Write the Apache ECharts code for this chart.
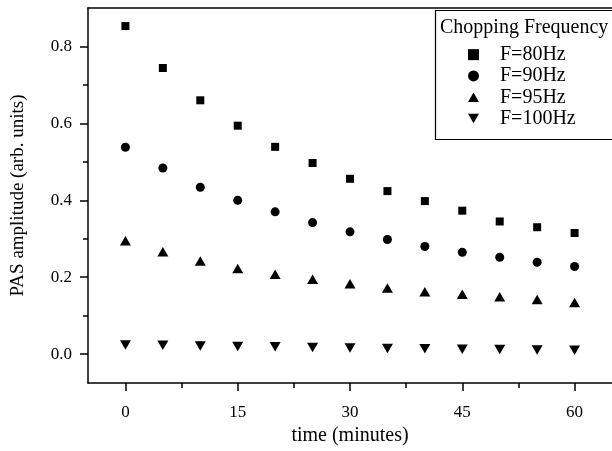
<!DOCTYPE html>
<html><head><meta charset="utf-8">
<script src="https://cdn.jsdelivr.net/npm/echarts@6/dist/echarts.min.js"></script>
<style>html,body{margin:0;padding:0;background:#fff}#c{width:612px;height:451px}</style>
</head><body><div id="c"></div>
<script>
const times = [0, 5, 10, 15, 20, 25, 30, 35, 40, 45, 50, 55, 60];
const f80  = [0.853, 0.744, 0.660, 0.594, 0.539, 0.497, 0.456, 0.424, 0.398, 0.373, 0.345, 0.330, 0.315];
const f90  = [0.538, 0.484, 0.434, 0.400, 0.370, 0.342, 0.318, 0.298, 0.280, 0.265, 0.252, 0.239, 0.228];
const f95  = [0.295, 0.266, 0.242, 0.223, 0.208, 0.195, 0.183, 0.172, 0.162, 0.156, 0.149, 0.142, 0.134];
const f100 = [0.024, 0.023, 0.021, 0.020, 0.019, 0.017, 0.016, 0.015, 0.014, 0.013, 0.012, 0.011, 0.010];
const seriesNames = ['F=80Hz', 'F=90Hz', 'F=95Hz', 'F=100Hz'];
const xMajor = [0, 15, 30, 45, 60];
const xMinor = [7.5, 22.5, 37.5, 52.5];
const yMajor = [0, 0.2, 0.4, 0.6, 0.8];
const yMinor = [0.1, 0.3, 0.5, 0.7];
const legendTitle = 'Chopping Frequency';

const FONT = 'Liberation Serif';
const downTri = 'path://M0,0L2,0L1,1.75Z';
const upTri = 'path://M1,0L2,1.75L0,1.75Z';
const pair = v => times.map((t, i) => [t, v[i]]);
const XR = {min: -5, max: 65}, YR = {min: -0.075, max: 0.9};
const line = {show: true, onZero: false, lineStyle: {color: '#000', width: 1.5}};
const mk = {color: '#000', opacity: 1};

const chart = echarts.init(document.getElementById('c'), null, {renderer: 'canvas'});
chart.setOption({
  animation: false,
  grid: {left: 88, right: 0, top: 8, bottom: 62},
  xAxis: [
    {type: 'value', ...XR, position: 'bottom', axisLine: line, splitLine: {show: false},
     axisTick: {show: true, inside: false, length: 8, customValues: xMajor, lineStyle: {color: '#000', width: 1.5}},
     axisLabel: {customValues: xMajor, color: '#000', fontFamily: FONT, fontSize: 17, margin: 21},
     name: 'time (minutes)', nameLocation: 'middle', nameGap: 43,
     nameTextStyle: {color: '#000', fontFamily: FONT, fontSize: 20}},
    {type: 'value', ...XR, position: 'bottom', axisLine: {show: false, onZero: false}, splitLine: {show: false},
     axisTick: {show: true, length: 5, customValues: xMinor, lineStyle: {color: '#000', width: 1.5}},
     axisLabel: {show: false}},
    {type: 'value', ...XR, position: 'top', axisLine: line, splitLine: {show: false},
     axisTick: {show: false}, axisLabel: {show: false}}
  ],
  yAxis: [
    {type: 'value', ...YR, position: 'left', axisLine: line, splitLine: {show: false},
     axisTick: {show: true, length: 8, customValues: yMajor, lineStyle: {color: '#000', width: 1.5}},
     axisLabel: {customValues: yMajor, color: '#000', fontFamily: FONT, fontSize: 17, margin: 16,
       formatter: v => v.toFixed(1)},
     name: 'PAS amplitude (arb. units)', nameLocation: 'middle', nameGap: 60,
     nameTextStyle: {color: '#000', fontFamily: FONT, fontSize: 19}},
    {type: 'value', ...YR, position: 'left', axisLine: {show: false, onZero: false}, splitLine: {show: false},
     axisTick: {show: true, length: 5, customValues: yMinor, lineStyle: {color: '#000', width: 1.5}},
     axisLabel: {show: false}}
  ],
  legend: {
    orient: 'vertical', left: 468, top: 44, itemWidth: 11, itemHeight: 11, itemGap: 0,
    padding: 0, z: 20,
    textStyle: {color: '#000', fontFamily: FONT, fontSize: 20, lineHeight: 21.3, padding: [0, 0, 0, 16]},
    data: seriesNames
  },
  graphic: [
    {type: 'rect', left: 433, top: 8, z: 1, silent: true,
     shape: {width: 180, height: 129}, style: {fill: 'none', stroke: '#000', lineWidth: 1.2}},
    {type: 'text', left: 440, top: 18, z: 2,
     style: {text: legendTitle, fill: '#000', font: '20px "Liberation Serif"'}}
  ],
  series: [
    {name: seriesNames[0], type: 'scatter', data: pair(f80), symbol: 'rect', symbolSize: 8, itemStyle: mk},
    {name: seriesNames[1], type: 'scatter', data: pair(f90), symbol: 'circle', symbolSize: 9, itemStyle: mk},
    {name: seriesNames[2], type: 'scatter', data: pair(f95), symbol: upTri, symbolSize: [11, 9.5], itemStyle: mk},
    {name: seriesNames[3], type: 'scatter', data: pair(f100), symbol: downTri, symbolSize: [11, 9.5], itemStyle: mk}
  ]
});
</script></body></html>
